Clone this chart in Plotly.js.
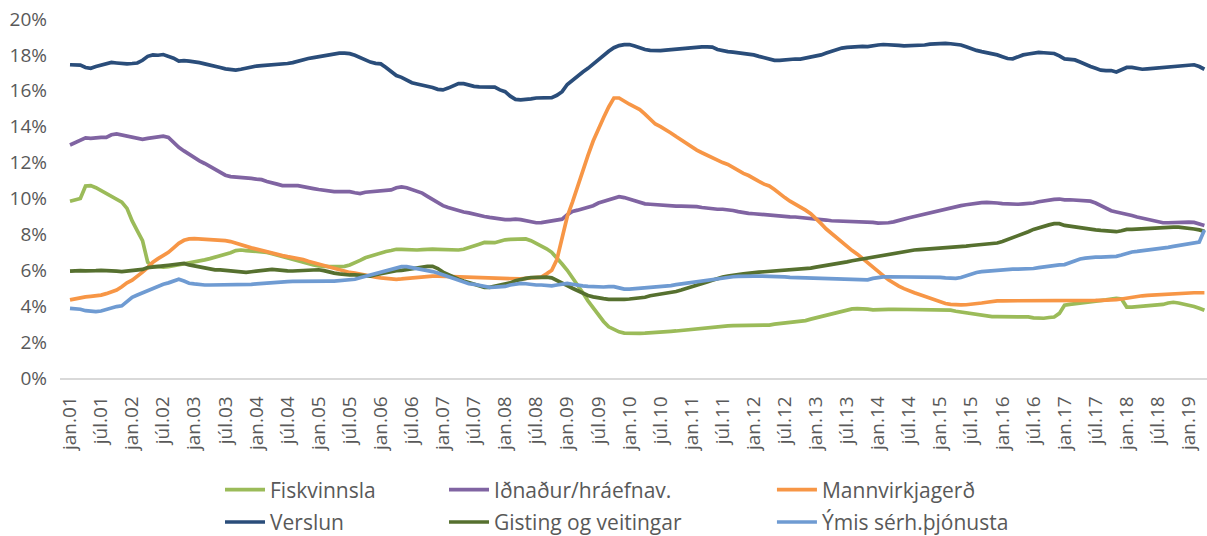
<!DOCTYPE html>
<html>
<head>
<meta charset="utf-8">
<script src="https://cdn.plot.ly/plotly-3.0.1.min.js"></script>
<style>html,body{margin:0;padding:0;background:#fff;}#chart{width:1207px;height:536px;}</style>
</head>
<body>
<div id="chart"></div>
<script>
// Month names (Icelandic abbreviations) and years for the category axis
const monthNames = ['jan','feb','mar','apr','maí','jún','júl','ágú','sep','okt','nóv','des'];
const years = ['01','02','03','04','05','06','07','08','09','10','11','12','13','14','15','16','17','18','19'];
const lastYearMonths = 4; // data runs to apr.19

// Series values (% share), monthly jan.01 – apr.19
const fiskvinnsla = [
9.85,9.95,10.0,10.7,10.72,10.6,10.45,10.3,10.15,10.0,9.8,9.45,
8.75,8.2,7.65,6.45,6.2,6.2,6.17,6.2,6.25,6.3,6.35,6.4,
6.43,6.5,6.58,6.65,6.72,6.8,6.9,6.98,7.1,7.13,7.1,7.07,
7.07,7.05,7.0,6.93,6.85,6.78,6.68,6.6,6.5,6.42,6.35,6.3,
6.25,6.2,6.2,6.2,6.2,6.22,6.3,6.4,6.55,6.7,6.8,6.85,
6.95,7.05,7.1,7.17,7.17,7.14,7.13,7.13,7.15,7.18,7.18,7.17,
7.15,7.13,7.12,7.13,7.17,7.25,7.37,7.45,7.55,7.56,7.54,7.62,
7.7,7.72,7.74,7.75,7.75,7.65,7.5,7.4,7.2,7.0,6.7,6.35,
6.0,5.6,5.15,4.75,4.3,3.9,3.5,3.15,2.85,2.68,2.57,2.5,
2.48,2.48,2.49,2.5,2.51,2.53,2.55,2.58,2.6,2.62,2.65,2.68,
2.72,2.75,2.78,2.82,2.86,2.88,2.9,2.9,2.92,2.92,2.92,2.92,
2.92,2.93,2.93,2.95,3.0,3.03,3.06,3.1,3.14,3.14,3.2,3.28,
3.35,3.45,3.52,3.6,3.68,3.75,3.8,3.85,3.86,3.86,3.84,3.8,
3.79,3.8,3.82,3.83,3.83,3.83,3.83,3.83,3.82,3.83,3.83,3.83,
3.83,3.82,3.78,3.72,3.67,3.62,3.57,3.52,3.47,3.44,3.42,3.42,
3.42,3.42,3.42,3.42,3.42,3.4,3.35,3.32,3.33,3.37,3.4,3.6,
4.05,4.1,4.13,4.17,4.18,4.22,4.26,4.3,4.35,4.4,4.44,4.4,
3.95,3.95,3.98,4.0,4.01,4.02,4.05,4.1,4.18,4.22,4.18,4.12,
4.07,3.98,3.88,3.77];

const idnadur = [
12.98,13.1,13.26,13.38,13.35,13.4,13.4,13.4,13.55,13.6,13.55,13.5,
13.45,13.35,13.3,13.35,13.38,13.42,13.47,13.4,13.1,12.85,12.65,12.45,
12.3,12.1,11.95,11.8,11.6,11.45,11.3,11.22,11.2,11.2,11.18,11.12,
11.08,11.05,10.95,10.85,10.8,10.72,10.7,10.72,10.72,10.65,10.6,10.55,
10.5,10.45,10.42,10.38,10.38,10.4,10.38,10.32,10.27,10.35,10.37,10.4,
10.42,10.45,10.48,10.6,10.65,10.6,10.5,10.42,10.3,10.12,9.95,9.8,
9.6,9.5,9.4,9.3,9.25,9.2,9.12,9.05,9.0,8.95,8.9,8.85,
8.82,8.82,8.85,8.82,8.75,8.7,8.65,8.66,8.7,8.73,8.78,8.85,
9.1,9.28,9.35,9.42,9.5,9.6,9.75,9.85,9.92,10.05,10.1,10.05,
9.95,9.85,9.75,9.7,9.68,9.65,9.62,9.6,9.6,9.58,9.58,9.57,
9.58,9.55,9.5,9.45,9.4,9.4,9.4,9.38,9.33,9.27,9.2,9.17,
9.15,9.12,9.1,9.08,9.06,9.03,9.0,8.98,8.97,8.95,8.93,8.9,
8.87,8.83,8.8,8.76,8.75,8.74,8.74,8.74,8.73,8.72,8.7,8.67,
8.63,8.62,8.65,8.7,8.75,8.85,8.93,9.0,9.05,9.12,9.22,9.3,
9.37,9.43,9.5,9.55,9.6,9.65,9.7,9.73,9.77,9.78,9.78,9.75,
9.72,9.7,9.68,9.68,9.7,9.72,9.75,9.82,9.88,9.92,9.95,9.97,
9.92,9.93,9.92,9.92,9.9,9.85,9.75,9.6,9.45,9.32,9.25,9.2,
9.12,9.05,8.97,8.9,8.82,8.75,8.68,8.65,8.65,8.67,8.68,8.68,
8.68,8.67,8.6,8.5];

const mannvirkjagerd = [
4.35,4.42,4.47,4.52,4.55,4.58,4.62,4.7,4.78,4.9,5.08,5.3,
5.45,5.65,5.9,6.15,6.45,6.65,6.8,7.0,7.25,7.5,7.67,7.75,
7.76,7.75,7.72,7.7,7.68,7.67,7.65,7.6,7.5,7.4,7.33,7.25,
7.18,7.1,7.05,6.95,6.88,6.82,6.76,6.72,6.68,6.6,6.5,6.42,
6.35,6.28,6.2,6.1,6.0,5.95,5.88,5.85,5.78,5.72,5.68,5.62,
5.58,5.55,5.52,5.5,5.52,5.55,5.6,5.62,5.63,5.66,5.68,5.68,
5.67,5.65,5.62,5.6,5.6,5.6,5.58,5.56,5.55,5.54,5.53,5.52,
5.5,5.5,5.5,5.52,5.55,5.58,5.6,5.62,5.8,6.0,6.6,7.9,
9.0,9.8,10.7,11.6,12.4,13.2,13.9,14.5,15.1,15.6,15.6,15.4,
15.25,15.1,14.95,14.7,14.4,14.15,14.0,13.85,13.65,13.45,13.25,13.07,
12.9,12.7,12.55,12.4,12.25,12.1,12.0,11.9,11.72,11.55,11.4,11.28,
11.1,10.95,10.8,10.7,10.5,10.25,10.05,9.85,9.7,9.55,9.35,9.15,
8.9,8.6,8.3,8.05,7.8,7.55,7.32,7.1,6.9,6.65,6.4,6.15,
5.95,5.7,5.47,5.27,5.12,4.98,4.85,4.75,4.65,4.55,4.4,4.3,
4.23,4.15,4.1,4.07,4.07,4.08,4.1,4.13,4.18,4.22,4.27,4.3,
4.3,4.3,4.3,4.3,4.29,4.28,4.28,4.3,4.31,4.3,4.28,4.27,
4.27,4.28,4.3,4.3,4.31,4.32,4.32,4.33,4.33,4.35,4.37,4.4,
4.45,4.52,4.55,4.58,4.6,4.62,4.65,4.67,4.7,4.72,4.72,4.73,
4.74,4.75,4.75,4.75];

const verslun = [
17.45,17.45,17.43,17.3,17.25,17.35,17.42,17.5,17.58,17.55,17.52,17.5,
17.52,17.55,17.7,17.92,18.0,17.98,18.02,17.92,17.82,17.65,17.68,17.65,
17.62,17.57,17.5,17.45,17.38,17.3,17.22,17.2,17.15,17.2,17.27,17.35,
17.38,17.4,17.42,17.43,17.45,17.48,17.52,17.57,17.65,17.75,17.8,17.85,
17.9,17.95,18.02,18.08,18.1,18.1,18.07,17.98,17.85,17.7,17.6,17.53,
17.5,17.3,17.1,16.85,16.75,16.6,16.45,16.38,16.33,16.27,16.18,16.08,
16.05,16.15,16.3,16.4,16.4,16.3,16.25,16.22,16.2,16.2,16.2,16.05,
15.95,15.7,15.52,15.5,15.5,15.55,15.6,15.62,15.62,15.62,15.75,15.95,
16.35,16.6,16.85,17.05,17.25,17.5,17.7,17.95,18.2,18.4,18.52,18.57,
18.58,18.5,18.38,18.3,18.25,18.22,18.24,18.27,18.3,18.33,18.35,18.38,
18.4,18.42,18.45,18.45,18.43,18.3,18.22,18.18,18.15,18.12,18.1,18.08,
18.0,17.92,17.85,17.75,17.7,17.7,17.74,17.75,17.77,17.77,17.82,17.88,
17.95,18.0,18.1,18.2,18.3,18.38,18.42,18.45,18.46,18.47,18.46,18.48,
18.55,18.58,18.58,18.55,18.53,18.5,18.5,18.5,18.53,18.55,18.6,18.62,
18.64,18.64,18.62,18.6,18.55,18.45,18.33,18.25,18.18,18.13,18.08,18.0,
17.9,17.8,17.78,17.9,18.0,18.05,18.1,18.14,18.12,18.1,18.08,17.95,
17.78,17.75,17.72,17.6,17.45,17.35,17.25,17.15,17.12,17.13,17.05,17.2,
17.3,17.3,17.25,17.2,17.22,17.25,17.28,17.3,17.32,17.35,17.37,17.42,
17.47,17.45,17.35,17.2];

const gisting = [
5.95,5.98,5.98,5.97,5.95,5.98,6.0,6.0,5.98,5.95,5.93,5.95,
5.97,5.98,6.05,6.15,6.2,6.22,6.25,6.28,6.3,6.35,6.38,6.3,
6.25,6.18,6.1,6.05,6.02,6.02,6.0,5.98,5.95,5.9,5.88,5.92,
5.95,6.0,6.03,6.05,6.02,5.98,5.97,5.96,5.97,6.0,6.03,6.05,
6.03,5.98,5.9,5.84,5.8,5.76,5.74,5.74,5.72,5.68,5.68,5.75,
5.82,5.88,5.93,5.98,6.0,6.05,6.08,6.12,6.18,6.22,6.22,6.1,
5.9,5.75,5.6,5.5,5.4,5.3,5.2,5.1,5.05,5.05,5.1,5.15,
5.22,5.3,5.42,5.5,5.55,5.6,5.62,5.63,5.62,5.58,5.45,5.32,
5.15,5.0,4.85,4.72,4.6,4.52,4.45,4.42,4.38,4.37,4.37,4.38,
4.4,4.42,4.45,4.5,4.58,4.62,4.67,4.72,4.76,4.82,4.9,4.98,
5.08,5.18,5.27,5.35,5.45,5.55,5.62,5.68,5.74,5.76,5.8,5.85,
5.88,5.9,5.92,5.94,5.95,5.97,5.98,6.0,6.02,6.03,6.05,6.12,
6.18,6.22,6.27,6.3,6.35,6.4,6.47,6.53,6.58,6.62,6.68,6.72,
6.78,6.85,6.88,6.95,7.02,7.06,7.1,7.13,7.15,7.17,7.18,7.19,
7.2,7.22,7.25,7.3,7.32,7.35,7.38,7.4,7.42,7.45,7.48,7.52,
7.6,7.7,7.82,7.93,8.03,8.15,8.28,8.38,8.46,8.53,8.6,8.6,
8.5,8.45,8.42,8.38,8.33,8.28,8.25,8.22,8.2,8.18,8.15,8.2,
8.28,8.28,8.3,8.33,8.35,8.38,8.4,8.42,8.42,8.41,8.4,8.38,
8.35,8.3,8.25,8.17];

const ymis = [
3.88,3.86,3.83,3.75,3.7,3.7,3.73,3.82,3.92,3.98,4.02,4.25,
4.5,4.62,4.75,4.87,5.0,5.12,5.22,5.3,5.38,5.5,5.4,5.28,
5.24,5.2,5.18,5.18,5.18,5.19,5.2,5.2,5.2,5.2,5.22,5.22,
5.24,5.27,5.3,5.32,5.35,5.37,5.37,5.38,5.39,5.4,5.4,5.4,
5.4,5.4,5.4,5.4,5.42,5.44,5.46,5.5,5.59,5.67,5.74,5.8,
5.9,5.98,6.07,6.15,6.2,6.2,6.15,6.1,6.06,6.0,5.93,5.85,
5.75,5.62,5.5,5.42,5.33,5.25,5.22,5.15,5.08,5.05,5.06,5.08,
5.1,5.18,5.25,5.27,5.25,5.2,5.18,5.18,5.15,5.13,5.18,5.25,
5.27,5.22,5.15,5.13,5.1,5.08,5.05,5.07,5.09,5.09,5.02,4.95,
4.95,4.97,5.0,5.02,5.03,5.06,5.1,5.13,5.15,5.2,5.24,5.3,
5.35,5.4,5.44,5.46,5.5,5.55,5.6,5.62,5.64,5.66,5.68,5.68,
5.68,5.68,5.68,5.67,5.66,5.65,5.63,5.61,5.6,5.6,5.57,5.54,
5.52,5.51,5.51,5.5,5.5,5.5,5.49,5.48,5.46,5.44,5.47,5.55,
5.6,5.63,5.64,5.64,5.64,5.64,5.64,5.64,5.64,5.64,5.63,5.62,
5.61,5.58,5.55,5.55,5.6,5.7,5.8,5.88,5.93,5.96,5.98,6.0,
6.03,6.05,6.06,6.07,6.07,6.08,6.1,6.15,6.2,6.25,6.28,6.3,
6.32,6.42,6.55,6.63,6.68,6.72,6.73,6.73,6.74,6.76,6.78,6.85,
6.95,7.02,7.05,7.08,7.12,7.16,7.2,7.24,7.28,7.33,7.38,7.43,
7.48,7.52,7.57,8.25];

const seriesNames = ['Fiskvinnsla','Iðnaður/hráefnav.','Mannvirkjagerð','Verslun','Gisting og veitingar','Ýmis sérh.þjónusta'];
const seriesValues = [fiskvinnsla, idnadur, mannvirkjagerd, verslun, gisting, ymis];
const seriesColors = ['#9BBB59','#8064A2','#F79646','#2A4D7A','#56702F','#6F9BD2'];
const legendIds = ['legend','legend2','legend3','legend','legend2','legend3'];

// build month categories
const categories = [];
years.forEach((yy, yi) => {
  const n = (yi === years.length - 1) ? lastYearMonths : 12;
  for (let m = 0; m < n; m++) categories.push(monthNames[m] + '.' + yy);
});
const tickCats = categories.filter((c, i) => i % 6 === 0);

const FONT = "'Open Sans', sans-serif";
const traces = seriesNames.map((name, k) => ({
  type: 'scatter', mode: 'lines', name: name,
  x: categories, y: seriesValues[k],
  line: {color: seriesColors[k], width: 3.7, shape: 'linear'},
  legend: legendIds[k], legendgroup: 'g' + k, hoverinfo: 'x+y+name'
}));

const legendBase = {
  orientation: 'v', xanchor: 'left', yanchor: 'top', yref: 'paper', xref: 'paper',
  font: {family: FONT, size: 21, color: '#595959'}, bgcolor: 'rgba(0,0,0,0)',
  borderwidth: 0, tracegroupgap: 2, itemwidth: 40
};

const layout = {
  width: 1207, height: 536,
  margin: {l: 60, r: 0, t: 19, b: 158, autoexpand: false},
  paper_bgcolor: '#ffffff', plot_bgcolor: '#ffffff',
  font: {family: FONT, color: '#595959'},
  showlegend: true,
  xaxis: {
    type: 'category', range: [-1.93, 219.5],
    tickmode: 'array', tickvals: tickCats, ticktext: tickCats,
    tickangle: -90, tickfont: {family: FONT, size: 19, color: '#595959'},
    showgrid: false, zeroline: false, showline: true, linecolor: '#D9D9D9', linewidth: 1.5,
    ticks: '', ticklabelstandoff: 9, fixedrange: true
  },
  yaxis: {
    range: [0, 20], dtick: 2, tick0: 0, ticksuffix: '%',
    tickfont: {family: FONT, size: 19, color: '#595959'},
    showgrid: false, zeroline: false, showline: false, ticks: '',
    ticklabelstandoff: 12, fixedrange: true
  },
  legend:  Object.assign({}, legendBase, {x: 0.1395, y: -0.255}),
  legend2: Object.assign({}, legendBase, {x: 0.3348, y: -0.255}),
  legend3: Object.assign({}, legendBase, {x: 0.6207, y: -0.255})
};

Plotly.newPlot('chart', traces, layout, {displayModeBar: false, staticPlot: false});
</script>
</body>
</html>
